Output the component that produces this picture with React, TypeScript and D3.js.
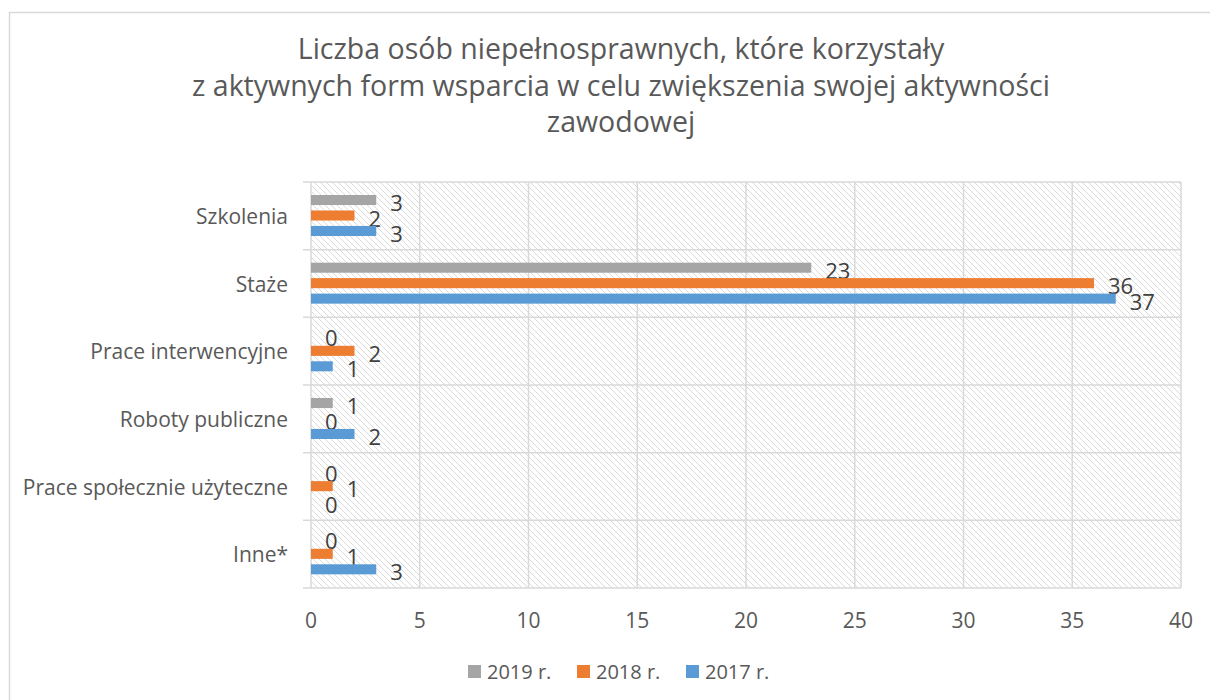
import React, { useEffect, useRef } from 'react';
import * as d3 from 'd3';

const categories = [
  'Szkolenia',
  'Staże',
  'Prace interwencyjne',
  'Roboty publiczne',
  'Prace społecznie użyteczne',
  'Inne*',
];
const seriesNames = ['2019 r.', '2018 r.', '2017 r.'];
const values2019 = [3, 23, 0, 1, 0, 0];
const values2018 = [2, 36, 2, 0, 1, 1];
const values2017 = [3, 37, 1, 2, 0, 3];
const seriesColors = ['#a5a5a5', '#ed7d31', '#5b9bd5'];
const xTicks = [0, 5, 10, 15, 20, 25, 30, 35, 40];
const titleLines = [
  'Liczba osób niepełnosprawnych, które korzystały',
  'z aktywnych form wsparcia w celu zwiększenia swojej aktywności',
  'zawodowej',
];

const FONT = '"Open Sans", "DejaVu Sans", sans-serif';

const App: React.FC = () => {
  const svgRef = useRef<SVGSVGElement>(null);

  useEffect(() => {
    if (!svgRef.current) return;
    const svg = d3.select(svgRef.current);
    svg.selectAll('*').remove();

    const W = 1210;
    const H = 700;
    const plot = { left: 311, right: 1181, top: 182, bottom: 588 };
    const series = [values2019, values2018, values2017];

    // outer chart border (chart is cropped on the right and bottom)
    svg.append('rect')
      .attr('x', 9.5).attr('y', 12.5)
      .attr('width', W + 20).attr('height', H + 20)
      .attr('fill', '#fff')
      .attr('stroke', '#d9d9d9')
      .attr('stroke-width', 1.5);

    // hatch pattern for plot background
    const defs = svg.append('defs');
    const pat = defs.append('pattern')
      .attr('id', 'hatch')
      .attr('patternUnits', 'userSpaceOnUse')
      .attr('width', 6).attr('height', 6);
    pat.append('path')
      .attr('d', 'M-1,-1 L7,7 M-1,5 L1,7 M5,-1 L7,1')
      .attr('stroke', '#dadada')
      .attr('stroke-width', 1);

    const x = d3.scaleLinear().domain([0, 40]).range([plot.left, plot.right]);
    const y = d3.scaleBand<string>().domain(categories).range([plot.top, plot.bottom]);
    const inner = d3.scaleBand<string>().domain(seriesNames).range([13, 54]).paddingInner(0.35);

    svg.append('rect')
      .attr('x', plot.left).attr('y', plot.top)
      .attr('width', plot.right - plot.left).attr('height', plot.bottom - plot.top)
      .attr('fill', 'url(#hatch)');

    // title
    svg.append('g')
      .selectAll('text')
      .data(titleLines)
      .enter()
      .append('text')
      .attr('x', 621)
      .attr('y', (d, i) => 48 + i * 36.5)
      .attr('text-anchor', 'middle')
      .attr('dominant-baseline', 'central')
      .attr('font-family', FONT)
      .attr('font-size', 28.5)
      .attr('fill', '#595959')
      .text(d => d);

    // vertical gridlines
    svg.append('g')
      .selectAll('line')
      .data(xTicks)
      .enter()
      .append('line')
      .attr('x1', d => x(d)).attr('x2', d => x(d))
      .attr('y1', plot.top).attr('y2', plot.bottom)
      .attr('stroke', '#d9d9d9')
      .attr('stroke-width', 1.5);

    // horizontal lines between categories (with small ticks on the left)
    const hLines = categories.map(c => y(c) as number).concat([plot.bottom]);
    svg.append('g')
      .selectAll('line')
      .data(hLines)
      .enter()
      .append('line')
      .attr('x1', plot.left - 8).attr('x2', plot.right)
      .attr('y1', d => d).attr('y2', d => d)
      .attr('stroke', '#d9d9d9')
      .attr('stroke-width', 1.5);

    // bars + labels
    series.forEach((vals, si) => {
      const name = seriesNames[si];
      const g = svg.append('g');
      g.selectAll('rect')
        .data(vals)
        .enter()
        .append('rect')
        .attr('x', x(0))
        .attr('y', (d, i) => (y(categories[i]) as number) + (inner(name) as number))
        .attr('width', d => x(d) - x(0))
        .attr('height', inner.bandwidth())
        .attr('fill', seriesColors[si]);

      g.selectAll('text')
        .data(vals)
        .enter()
        .append('text')
        .attr('x', d => x(d) + 14)
        .attr('y', (d, i) => (y(categories[i]) as number) + (inner(name) as number) + inner.bandwidth() / 2 + 2)
        .attr('dominant-baseline', 'central')
        .attr('font-family', FONT)
        .attr('font-size', 22)
        .attr('fill', '#404040')
        .text(d => d);
    });

    // category labels
    svg.append('g')
      .selectAll('text')
      .data(categories)
      .enter()
      .append('text')
      .attr('x', 288)
      .attr('y', d => (y(d) as number) + y.bandwidth() / 2)
      .attr('text-anchor', 'end')
      .attr('dominant-baseline', 'central')
      .attr('font-family', FONT)
      .attr('font-size', 21)
      .attr('fill', '#595959')
      .text(d => d);

    // x tick labels
    svg.append('g')
      .selectAll('text')
      .data(xTicks)
      .enter()
      .append('text')
      .attr('x', d => x(d))
      .attr('y', 620)
      .attr('text-anchor', 'middle')
      .attr('dominant-baseline', 'central')
      .attr('font-family', FONT)
      .attr('font-size', 21)
      .attr('fill', '#595959')
      .text(d => d);

    // legend
    const legendX = [468, 577, 686];
    const lg = svg.append('g');
    seriesNames.forEach((name, i) => {
      lg.append('rect')
        .attr('x', legendX[i]).attr('y', 665)
        .attr('width', 13).attr('height', 13)
        .attr('fill', seriesColors[i]);
      lg.append('text')
        .attr('x', legendX[i] + 19).attr('y', 671)
        .attr('dominant-baseline', 'central')
        .attr('font-family', FONT)
        .attr('font-size', 20)
        .attr('fill', '#595959')
        .text(name);
    });
  }, []);

  return (
    <svg
      ref={svgRef}
      width={1210}
      height={700}
      style={{ position: 'absolute', left: 0, top: 0, display: 'block', background: '#fff' }}
    />
  );
};

export default App;
